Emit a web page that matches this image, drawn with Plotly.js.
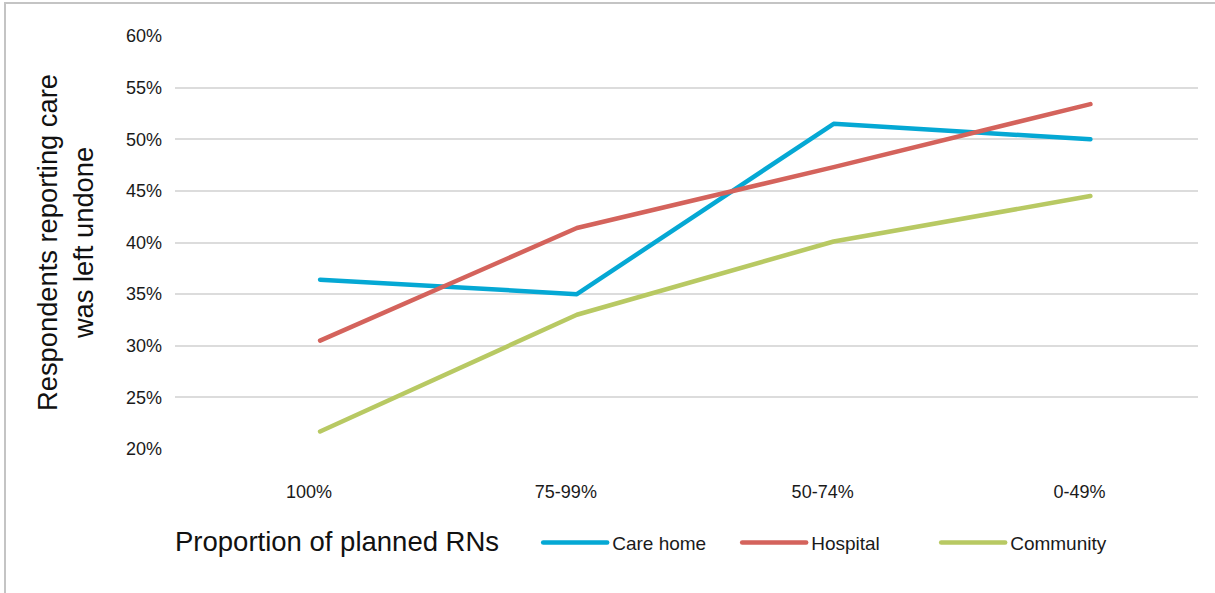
<!DOCTYPE html>
<html>
<head>
<meta charset="utf-8">
<script src="https://cdn.plot.ly/plotly-3.0.1.min.js"></script>
<style>
  html, body { margin: 0; padding: 0; background: #ffffff; }
  #wrap { position: relative; width: 1215px; height: 593px; overflow: hidden; }
  #chart { position: absolute; left: 0; top: 0; width: 1215px; height: 593px; }
  #frame { position: absolute; left: 4px; top: 2px; right: -4px; bottom: -4px;
           border-top: 2px solid #c4c4c4; border-left: 2px solid #c4c4c4; pointer-events: none; }
  .scatterlayer .js-line, .legend .js-line { stroke-linecap: round; stroke-linejoin: round; }
</style>
</head>
<body>
<div id="wrap">
  <div id="chart"></div>
  <div id="frame"></div>
</div>
<script>
// Share of planned registered nurses on shift
const staffingLevels = ['100%', '75-99%', '50-74%', '0-49%'];

// Respondents reporting care was left undone (%)
const careHome  = [36.4, 35.0, 51.5, 50.0];
const hospital  = [30.5, 41.4, 47.3, 53.4];
const community = [21.7, 33.0, 40.1, 44.5];

const seriesNames  = ['Care home', 'Hospital', 'Community'];
const seriesColors = ['#05a8d4', '#d4635c', '#b8c963'];
const seriesValues = [careHome, hospital, community];

const xTitle = 'Proportion of planned RNs';
const yTitle = 'Respondents reporting care<br>was left undone';

const FONT = '"Liberation Sans", Arial, sans-serif';

const traces = seriesValues.map((vals, i) => ({
  type: 'scatter',
  mode: 'lines',
  name: seriesNames[i],
  x: staffingLevels,
  y: vals,
  line: { color: seriesColors[i], width: 4.5 },
  hoverinfo: 'skip'
}));

const layout = {
  width: 1215,
  height: 593,
  margin: { l: 175, r: 17, t: 36, b: 144 },
  paper_bgcolor: '#ffffff',
  plot_bgcolor: '#ffffff',
  font: { family: FONT, color: '#1a1a1a', size: 18 },
  showlegend: true,
  legend: {
    orientation: 'h',
    x: 0.355,
    xanchor: 'left',
    y: -0.227,
    yanchor: 'middle',
    itemwidth: 64,
    entrywidth: 120,
    entrywidthmode: 'pixels',
    font: { family: FONT, size: 19, color: '#1a1a1a' },
    bgcolor: 'rgba(0,0,0,0)'
  },
  annotations: [{
    text: xTitle,
    xref: 'paper', yref: 'paper',
    x: 0, y: -0.2243,
    xanchor: 'left', yanchor: 'middle',
    xshift: -2,
    showarrow: false,
    font: { family: FONT, size: 27.5, color: '#111111' }
  }],
  xaxis: {
    type: 'category',
    categoryorder: 'array',
    categoryarray: staffingLevels,
    range: [-0.565, 3.419],
    showgrid: false,
    zeroline: false,
    showline: false,
    ticks: '',
    ticklabelstandoff: 30,
    ticklabelshift: -11,
    tickfont: { family: FONT, size: 18, color: '#1a1a1a' }
  },
  yaxis: {
    range: [20, 60],
    tick0: 20,
    dtick: 5,
    ticksuffix: '%',
    showgrid: true,
    gridcolor: '#dcdcdc',
    gridwidth: 2,
    zeroline: false,
    showline: false,
    ticks: '',
    ticklabelstandoff: 12,
    tickfont: { family: FONT, size: 18, color: '#1a1a1a' },
    title: {
      text: yTitle,
      font: { family: FONT, size: 27.3, color: '#111111' },
      standoff: 24
    }
  }
};

Plotly.newPlot('chart', traces, layout, { staticPlot: true, displayModeBar: false });
</script>
</body>
</html>
